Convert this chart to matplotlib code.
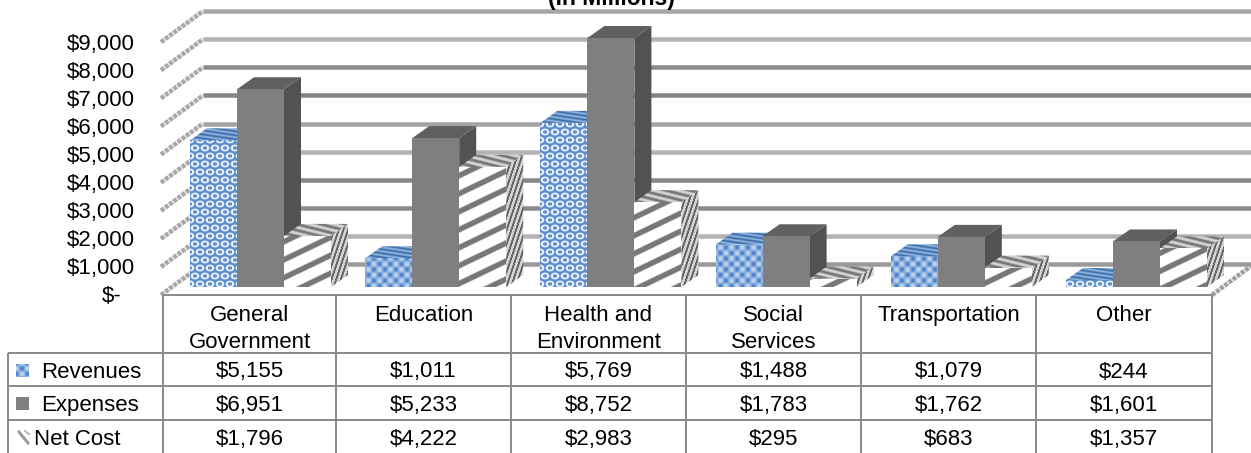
#!/usr/bin/env python3
"""Excel-style 3D column chart with data table, drawn in pixel coordinates."""

import matplotlib

matplotlib.use("Agg")
import matplotlib.pyplot as plt
import numpy as np
from matplotlib.patches import Polygon, Rectangle

CATEGORIES = ["General\nGovernment", "Education", "Health and\nEnvironment",
              "Social\nServices", "Transportation", "Other"]
REVENUES = [5155, 1011, 5769, 1488, 1079, 244]
EXPENSES = [6951, 5233, 8752, 1783, 1762, 1601]
NET_COST = [1796, 4222, 2983, 295, 683, 1357]
REV_PATTERN = ["oval", "diamond", "oval", "diamond", "diamond", "oval"]
TICKS = [0, 1000, 2000, 3000, 4000, 5000, 6000, 7000, 8000, 9000]
TICK_LABELS = ["$-", "$1,000", "$2,000", "$3,000", "$4,000", "$5,000",
               "$6,000", "$7,000", "$8,000", "$9,000"]
GRID_GREYS = ["#9a9a9a", "#b4b4b4", "#8a8a8a", "#868686", "#b4b4b4",
              "#a4a4a4", "#858585", "#8c8c8c", "#b4b4b4", "#a6a6a6"]

W, H = 1251, 453
FS = 16
BAR_W, DX, DY = 47, 17, -12
GROUP_X0, GROUP_STEP = 190, 175.2
BASE_Y = 287
BAR_SCALE = 0.02845
TABLE_X = [163, 336, 511, 686, 861, 1036, 1212]
TABLE_Y = [295, 353, 386, 420, 453]

plt.rcParams["font.family"] = ["Liberation Sans", "DejaVu Sans"]


def px(n):
    return n * 0.72


def wall_y(v):
    return 264 - v * 0.0281


def front_y(v):
    return 295 - v * 0.0281


def tex_stripes(x, y, slope, period, duty=0.36):
    # 1 on the stripe, 0 between stripes, with a soft edge
    phase = ((y - slope * x) / period) % 1.0
    return np.clip((np.abs(phase - 0.5) - (0.5 - duty / 2)) * period / 1.6 + 0.5, 0, 1)


def tex_oval(x, y):
    # white rings on blue, every other row shifted by half a cell
    row = y // 8
    cx = (x + 5 * (row % 2)) % 10 - 5
    cy = y % 8 - 4
    r = np.sqrt(cx ** 2 + (cy * 1.25) ** 2)
    return 0.85 - 0.75 * np.clip(1.6 - np.abs(r - 3.2), 0, 1)


def tex_diamond(x, y):
    cross = (np.cos(2 * np.pi * x / 11) * np.cos(2 * np.pi * y / 11) + 1) / 2
    return 0.3 + 0.7 * (1 - cross) ** 1.2


def fill_texture(ax, corners, func, light, dark, zorder):
    """Fill a polygon with a two-colour texture, clipped to the polygon."""
    xs = [c[0] for c in corners]
    ys = [c[1] for c in corners]
    x0, x1 = int(min(xs)), int(max(xs)) + 1
    y0, y1 = int(min(ys)), int(max(ys)) + 1
    gx, gy = np.meshgrid(np.arange(x0, x1) + 0.5, np.arange(y0, y1) + 0.5)
    t = func(gx, gy)[..., None]
    light = np.array(matplotlib.colors.to_rgb(light))
    dark = np.array(matplotlib.colors.to_rgb(dark))
    img = light * (1 - t) + dark * t
    im = ax.imshow(img, extent=[x0, x1, y1, y0], aspect="auto",
                   interpolation="bilinear", zorder=zorder)
    patch = Polygon(corners, closed=True, transform=ax.transData,
                    fc="none", ec="none")
    ax.add_patch(patch)
    im.set_clip_path(patch)


def box_faces(x, value):
    top = BASE_Y - value * BAR_SCALE
    front = [(x, top), (x + BAR_W, top), (x + BAR_W, BASE_Y), (x, BASE_Y)]
    roof = [(x, top), (x + DX, top + DY), (x + BAR_W + DX, top + DY), (x + BAR_W, top)]
    side = [(x + BAR_W, top), (x + BAR_W + DX, top + DY),
            (x + BAR_W + DX, BASE_Y + DY), (x + BAR_W, BASE_Y)]
    return front, roof, side


def draw_revenue(ax, x, value, pattern, z):
    front, roof, side = box_faces(x, value)
    func = tex_oval if pattern == "oval" else tex_diamond
    fill_texture(ax, front, func, "#ffffff", "#3f7bc8", z)
    fill_texture(ax, roof, lambda a, b: tex_stripes(a, b, 0.15, 4, 0.5),
                 "#8fb2e0", "#3c6ea8", z)


def draw_expense(ax, x, value, z):
    front, roof, side = box_faces(x, value)
    ax.add_patch(Polygon(side, fc="#525252", ec="none", zorder=z))
    ax.add_patch(Polygon(roof, fc="#606060", ec="none", zorder=z))
    ax.add_patch(Polygon(front, fc="#7f7f7f", ec="none", zorder=z))


def draw_net(ax, x, value, z):
    front, roof, side = box_faces(x, value)
    fill_texture(ax, side, lambda a, b: tex_stripes(a, b, -3.0, 14, 0.45),
                 "#d4d4d4", "#666666", z)
    fill_texture(ax, roof, lambda a, b: tex_stripes(a, b, 0.25, 6, 0.5),
                 "#d4d4d4", "#777777", z)
    fill_texture(ax, front, lambda a, b: tex_stripes(a, b, -0.48, 18, 0.34),
                 "#ffffff", "#777777", z)


def main():
    fig = plt.figure(figsize=(W / 100, H / 100), dpi=100)
    ax = fig.add_axes([0, 0, 1, 1])
    ax.axis("off")

    # back wall gridlines and the hatched left wall
    for v, grey in zip(TICKS, GRID_GREYS):
        ax.plot([203, W], [wall_y(v)] * 2, color=grey, lw=px(4.5),
                solid_capstyle="butt", zorder=1)
        ax.plot([161, 203], [front_y(v), wall_y(v)], color="#a8a8a8", lw=px(4.5),
                ls=(0, (0.9, 0.25)), zorder=1)
    ax.plot([1212, 1251], [295, 266], color="#a0a0a0", lw=px(4.5),
            ls=(0, (0.9, 0.25)), zorder=1)

    for v, lab in zip(TICKS, TICK_LABELS):
        right = 122 if v == 0 else 135
        ax.text(right, front_y(v) + 7.5, lab, ha="right", va="baseline", fontsize=FS)

    # columns
    z = 3
    for i in range(len(CATEGORIES)):
        x = GROUP_X0 + i * GROUP_STEP
        draw_revenue(ax, x, REVENUES[i], REV_PATTERN[i], z)
        draw_expense(ax, x + BAR_W, EXPENSES[i], z + 1)
        draw_net(ax, x + 2 * BAR_W, NET_COST[i], z + 2)
        z += 3

    # data table
    table_z = 40
    line = dict(color="#8c8c8c", lw=px(2), zorder=table_z, solid_capstyle="butt")
    ax.plot([TABLE_X[0], TABLE_X[-1]], [TABLE_Y[0]] * 2, **line)
    for y in TABLE_Y[1:4]:
        ax.plot([8, TABLE_X[-1]], [y, y], **line)
    for x in TABLE_X:
        ax.plot([x, x], [TABLE_Y[0], H], **line)
    ax.plot([8, 8], [TABLE_Y[1], H], **line)

    centers = [(TABLE_X[i] + TABLE_X[i + 1]) / 2 for i in range(6)]
    for cx, name in zip(centers, CATEGORIES):
        ax.text(cx, 305, name, ha="center", va="top", fontsize=FS,
                linespacing=1.36, zorder=table_z)

    rows = [("Revenues", REVENUES, 41), ("Expenses", EXPENSES, 41), ("Net Cost", NET_COST, 34)]
    for (label, values, lx), base in zip(rows, [377.5, 411, 445]):
        ax.text(lx, base, label, ha="left", va="baseline", fontsize=FS, zorder=table_z)
        for cx, val in zip(centers, values):
            ax.text(cx, base, f"${val:,}", ha="center", va="baseline", fontsize=FS,
                    zorder=table_z)

    # legend keys in the table
    fill_texture(ax, [(16, 364), (29, 364), (29, 377), (16, 377)], tex_diamond,
                 "#ffffff", "#3f7bc8", table_z)
    ax.add_patch(Rectangle((16, 397), 13, 13, fc="#7f7f7f", ec="none", zorder=table_z))
    ax.plot([19, 28], [432, 443], color="#9a9a9a", lw=px(3), zorder=table_z)
    ax.plot([25, 29], [431, 434], color="#b8b8b8", lw=px(2), zorder=table_z)

    # title is cut off at the top edge in the source picture
    ax.text(611, 5, "(In Millions)", ha="center", va="baseline",
            fontsize=16.5, fontweight="bold", zorder=50)

    ax.set_xlim(0, W)
    ax.set_ylim(H, 0)
    fig.savefig("out.png", dpi=100)
    plt.close(fig)


if __name__ == "__main__":
    main()
